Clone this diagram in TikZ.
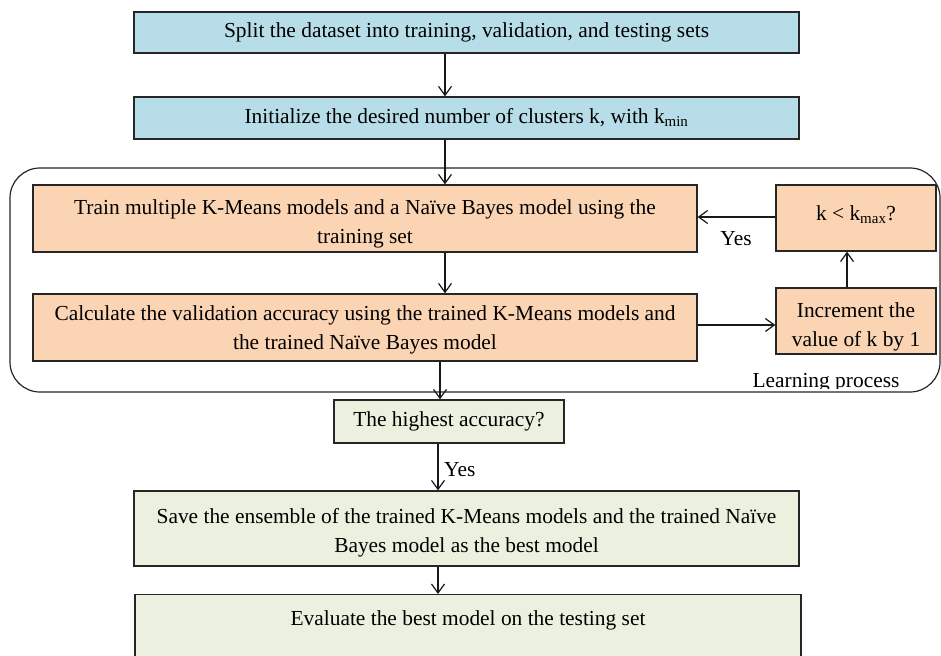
\documentclass[tikz,border=0pt]{standalone}
\usepackage{fontspec}
\setmainfont{Liberation Serif}
\usetikzlibrary{arrows.meta}
\definecolor{stepblue}{HTML}{B7DDE8}
\definecolor{steporange}{HTML}{FBD4B4}
\definecolor{stepgreen}{HTML}{EBF1DE}
% two centred lines whose reference point is the first baseline
\newcommand{\twolines}[2]{\begin{tabular}[t]{@{}c@{}}#1\\#2\end{tabular}}
\begin{document}
\begin{tikzpicture}[x=1pt,y=-1pt,
  box/.style={draw=black!85, line width=1.3pt, inner sep=0pt, align=center,
              font=\fontsize{21.4}{29}\selectfont},
  bluebox/.style={box, fill=stepblue},
  orangebox/.style={box, fill=steporange},
  greenbox/.style={box, fill=stepgreen},
  % fixes where the text block sits inside its box
  twoline/.style={text height=15pt, text depth=#1},
  lbl/.style={font=\fontsize{21.4}{24}\selectfont, inner sep=0pt},
  arr/.style={line width=1.2pt, black!90,
              -{Straight Barb[length=9pt,width=13pt,line width=1.2pt]}}
]
\clip (0,0) rectangle (941,655);

% learning-process frame and its caption (cut off at the frame line)
\begin{scope}
  \clip (700,360) rectangle (941,388);
  \node[lbl, anchor=base] (lp) at (826,387) {Learning process};
\end{scope}
\draw[line width=1.2pt, black!85, rounded corners=30pt] (10,168) rectangle (940,392);

% main column
\node[bluebox, minimum width=665pt, minimum height=41pt] (split) at (466.5,32.5)
  {Split the dataset into training, validation, and testing sets};
\node[bluebox, minimum width=665pt, minimum height=42pt] (init) at (466.5,118)
  {Initialize the desired number of clusters k, with k\textsubscript{min}};
\node[orangebox, twoline=24pt, minimum width=664pt, minimum height=67pt] (train) at (365,218.5)
  {\twolines{Train multiple K-Means models and a Naïve Bayes model using the}{training set}};
\node[orangebox, twoline=29pt, minimum width=664pt, minimum height=67pt] (calc) at (365,327.5)
  {\twolines{Calculate the validation accuracy using the trained K-Means models and}{the trained Naïve Bayes model}};
\node[orangebox, twoline=11pt, minimum width=160pt, minimum height=66pt] (kmax) at (856,218)
  {k < k\textsubscript{max}?};
\node[orangebox, twoline=22pt, minimum width=160pt, minimum height=66pt] (incr) at (856,321)
  {\twolines{Increment the}{value of k by 1}};
\node[greenbox, minimum width=230pt, minimum height=43pt] (best) at (449,421.5)
  {The highest accuracy?};
\node[greenbox, twoline=26pt, minimum width=665pt, minimum height=75pt] (save) at (466.5,528.5)
  {\twolines{Save the ensemble of the trained K-Means models and the trained Naïve}{Bayes model as the best model}};
\node[greenbox, minimum width=666pt, anchor=north, text height=14pt, text depth=60pt,
      inner ysep=17pt] (eval) at (468,594)
  {Evaluate the best model on the testing set};

% x positions of the vertical connectors
\coordinate (xa) at (445,0);
\coordinate (xb) at (440,0);
\coordinate (xc) at (438,0);
\coordinate (xd) at (847,0);

% connectors
\draw[arr] (split.south -| xa) -- (init.north -| xa);
\draw[arr] (init.south -| xa) -- (train.north -| xa);
\draw[arr] (train.south -| xa) -- (calc.north -| xa);
\draw[arr] (calc.south -| xb) -- (best.north -| xb);
\draw[arr] (best.south -| xc) -- (save.north -| xc);
\draw[arr] (save.south -| xc) -- (eval.north -| xc);
\draw[arr] (calc.east |- 0,325) -- (incr.west |- 0,325);
\draw[arr] (incr.north -| xd) -- (kmax.south -| xd);
\draw[arr] (kmax.west |- 0,217) -- (train.east |- 0,217);

% branch labels
\node[lbl] (yes1) at (736,239) {Yes};
\node[lbl, anchor=west] (yes2) at (444,470) {Yes};
\end{tikzpicture}
\end{document}
